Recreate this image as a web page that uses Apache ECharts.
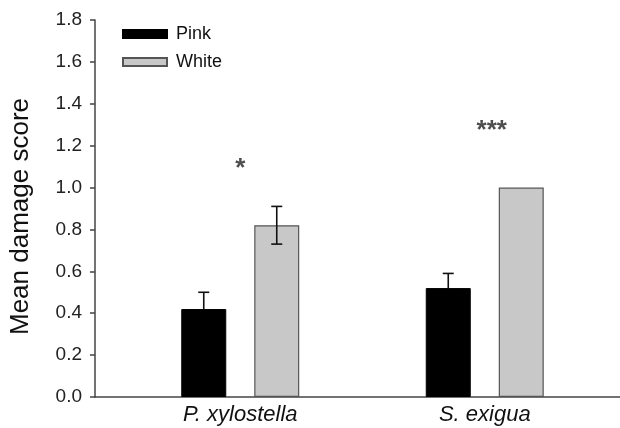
<!DOCTYPE html>
<html>
<head>
<meta charset="utf-8">
<script src="https://cdn.jsdelivr.net/npm/echarts@6/dist/echarts.min.js"></script>
<style>
  html, body { margin: 0; padding: 0; background: #fff; }
  #chart { width: 620px; height: 428px; }
</style>
</head>
<body>
<div id="chart"></div>
<script>
// data
let categories = ['P. xylostella', 'S. exigua'];
let pinkMeans = [0.42, 0.52];
let pinkErr = [0.08, 0.07];
let whiteMeans = [0.82, 1.0];
let whiteErr = [0.09, 0];
let sigLabels = ['*', '***'];
let sigHeights = [1.09, 1.27];
let yMin = 0, yMax = 1.8, yStep = 0.2;

(() => {
    let chart = echarts.init(document.getElementById('chart'));
    let font = 'Liberation Sans, Arial, sans-serif';
    let axisColor = '#444';
    let barWidth = 45;
    let barGapPx = 28;
    let shift = (barWidth + barGapPx) / 2;

    // error bar data: [category, low, high, side]
    // pink bars are solid black, so only the upper half shows
    let errData = [];
    for (let i = 0; i < categories.length; i++) {
        errData.push([i, pinkMeans[i], pinkMeans[i] + pinkErr[i], -1]);
        if (whiteErr[i] > 0) {
            errData.push([i, whiteMeans[i] - whiteErr[i], whiteMeans[i] + whiteErr[i], 1]);
        }
    }

    let sigData = [];
    for (let i = 0; i < categories.length; i++) {
        sigData.push({ value: [i, sigHeights[i]], label: { formatter: sigLabels[i], offset: [i === 1 ? 7 : 0, 0] } });
    }

    chart.setOption({
        animation: false,
        textStyle: { fontFamily: font },
        grid: [
            { left: 118, right: 13, top: 20, bottom: 31 },
            { left: 93, right: 0, top: 20, bottom: 31 }
        ],
        legend: {
            data: ['Pink', 'White'],
            orient: 'vertical',
            left: 117,
            top: 20,
            itemWidth: 44,
            itemHeight: 8,
            itemGap: 10,
            icon: 'rect',
            textStyle: { fontSize: 18, color: '#111', fontFamily: font, padding: [0, 0, 0, 4] }
        },
        xAxis: [
            {
                type: 'category',
                gridIndex: 0,
                data: categories,
                axisLine: { show: false },
                axisTick: { show: false },
                axisLabel: { fontSize: 22, fontStyle: 'italic', color: '#111', margin: 7 }
            },
            {
                type: 'value',
                gridIndex: 1,
                min: 0,
                max: 1,
                axisLine: { show: true, lineStyle: { color: axisColor, width: 1.5 } },
                axisTick: { show: false },
                axisLabel: { show: false },
                splitLine: { show: false }
            }
        ],
        yAxis: [
            {
                type: 'value',
                gridIndex: 0,
                min: yMin,
                max: yMax,
                show: false
            },
            {
                type: 'value',
                gridIndex: 1,
                min: yMin,
                max: yMax,
                interval: yStep,
                name: 'Mean damage score',
                nameLocation: 'middle',
                nameGap: 61,
                nameTextStyle: { fontSize: 26, color: '#111', padding: [0, 16, 0, 0] },
                axisLine: { show: true, lineStyle: { color: axisColor, width: 1.5 } },
                axisTick: { show: true, length: 5, lineStyle: { color: axisColor, width: 1.5 } },
                axisLabel: {
                    fontSize: 19,
                    color: '#222',
                    margin: 13,
                    formatter: v => v.toFixed(1)
                },
                splitLine: { show: false }
            }
        ],
        series: [
            {
                name: 'Pink',
                type: 'bar',
                xAxisIndex: 0,
                yAxisIndex: 0,
                data: pinkMeans,
                barWidth: barWidth,
                barGap: (barGapPx / barWidth * 100) + '%',
                itemStyle: { color: '#000', borderColor: '#000', borderWidth: 1 }
            },
            {
                name: 'White',
                type: 'bar',
                xAxisIndex: 0,
                yAxisIndex: 0,
                data: whiteMeans,
                barWidth: barWidth,
                itemStyle: { color: '#c8c8c8', borderColor: '#555', borderWidth: 1.2 }
            },
            {
                type: 'custom',
                xAxisIndex: 0,
                yAxisIndex: 0,
                data: errData,
                z: 10,
                renderItem: function (params, api) {
                    let side = api.value(3);
                    let lo = api.coord([api.value(0), api.value(1)]);
                    let hi = api.coord([api.value(0), api.value(2)]);
                    let x = lo[0] + side * shift;
                    let cap = 5.5;
                    let style = { stroke: '#111', lineWidth: 1.6 };
                    let kids = [
                        { type: 'line', shape: { x1: x, y1: lo[1], x2: x, y2: hi[1] }, style: style },
                        { type: 'line', shape: { x1: x - cap, y1: hi[1], x2: x + cap, y2: hi[1] }, style: style }
                    ];
                    if (side > 0) {
                        kids.push({ type: 'line', shape: { x1: x - cap, y1: lo[1], x2: x + cap, y2: lo[1] }, style: style });
                    }
                    return { type: 'group', children: kids };
                }
            },
            {
                type: 'scatter',
                xAxisIndex: 0,
                yAxisIndex: 0,
                symbolSize: 0,
                data: sigData,
                label: {
                    show: true,
                    position: 'inside',
                    fontSize: 26,
                    fontWeight: 'bold',
                    color: '#222',
                    verticalAlign: 'middle'
                },
                silent: true
            }
        ]
    });
})();
</script>
</body>
</html>
